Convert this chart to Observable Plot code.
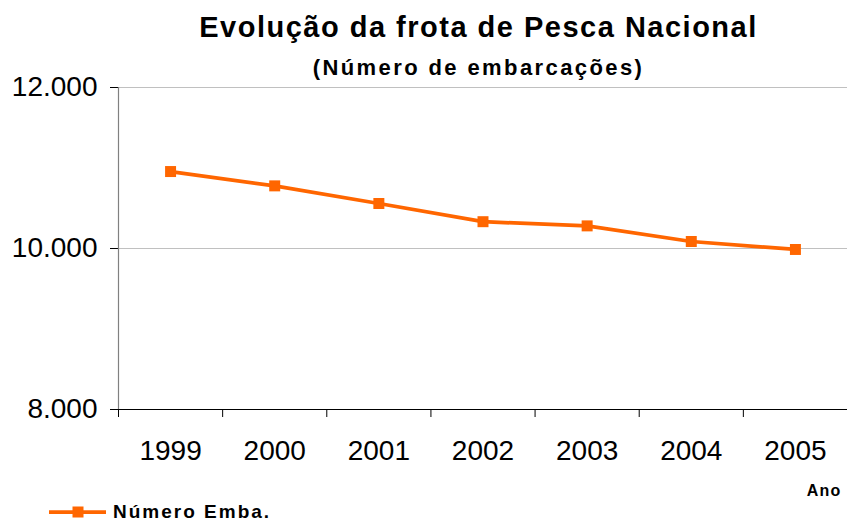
<!DOCTYPE html>
<html>
<head>
<meta charset="utf-8">
<script src="https://cdn.jsdelivr.net/npm/d3@7"></script>
<script src="https://cdn.jsdelivr.net/npm/@observablehq/plot@0.6"></script>
<style>
  html, body { margin: 0; padding: 0; background: #fff; }
  #wrap { position: relative; width: 847px; height: 521px; overflow: hidden; font-family: "Liberation Sans", Arial, sans-serif; color: #000; }
  .title { position: absolute; left: 0; width: 957px; text-align: center; font-weight: bold; white-space: nowrap; }
  #t1 { top: 13px; font-size: 29px; line-height: 29px; letter-spacing: 1.5px; }
  #t2 { top: 57px; font-size: 22px; line-height: 22px; letter-spacing: 2.4px; }
  #chart { position: absolute; left: 0; top: 72px; }
  #legend { position: absolute; left: 49px; top: 502px; height: 19px; display: flex; align-items: center; }
  #legend span { font-weight: bold; font-size: 19px; line-height: 19px; letter-spacing: 2px; margin-left: 6px; }
</style>
</head>
<body>
<div id="wrap">
  <div id="chart"></div>
  <div class="title" id="t1">Evolução da frota de Pesca Nacional</div>
  <div class="title" id="t2">(Número de embarcações)</div>
  <div id="legend"></div>
</div>
<script>
const years = [1999, 2000, 2001, 2002, 2003, 2004, 2005];
const boats = [10956, 10778, 10559, 10333, 10281, 10087, 9988];
const yTicks = [8000, 10000, 12000];
const seriesName = "Número Emba.";
const xTitle = "Ano";
const orange = "#FF6600";

const data = years.map((year, i) => ({year, boats: boats[i]}));
const bounds = [...years.map(y => y - 0.5), years[years.length - 1] + 0.5];
const fmt = d => d3.format(",")(d).replace(/,/g, ".");

const plot = Plot.plot({
  width: 847,
  height: 430,
  marginTop: 15,
  marginBottom: 93,
  marginLeft: 118,
  marginRight: 0,
  style: {fontFamily: "'Liberation Sans', Arial, sans-serif", fontSize: "28px", color: "#000", background: "#fff", overflow: "visible"},
  x: {domain: [years[0] - 0.5, years[years.length - 1] + 0.5]},
  y: {domain: [yTicks[0], yTicks[yTicks.length - 1]]},
  marks: [
    Plot.ruleY(yTicks.slice(1), {stroke: "#c0c0c0", strokeWidth: 1}),
    Plot.axisY({ticks: yTicks, tickSize: 8, tickPadding: 13, tickFormat: fmt, label: null, fontSize: 28}),
    Plot.axisX({ticks: bounds, tickSize: 8, tickFormat: () => "", label: null}),
    Plot.axisX({ticks: years, tickSize: 0, tickPadding: 31, tickFormat: d => String(d), label: null, fontSize: 28}),
    Plot.ruleX([years[0] - 0.5], {stroke: "#808080", strokeWidth: 1.2}),
    Plot.ruleY([yTicks[0]], {stroke: "#000", strokeWidth: 1.2}),
    Plot.text([xTitle], {frameAnchor: "bottom-right", textAnchor: "end", lineAnchor: "bottom", dx: -6, dy: 86, fontSize: 16, fontWeight: "bold"}),
    Plot.line(data, {x: "year", y: "boats", stroke: orange, strokeWidth: 3.75}),
    Plot.dot(data, {x: "year", y: "boats", symbol: "square", r: 6.2, fill: orange, stroke: "none"})
  ]
});
plot.querySelectorAll("text").forEach(t => {
  if (t.textContent === xTitle) t.setAttribute("letter-spacing", "1.2");
});
document.getElementById("chart").appendChild(plot);

const leg = document.getElementById("legend");
leg.innerHTML = `<svg width="58" height="19" viewBox="0 0 58 19">
  <line x1="0" y1="10" x2="57" y2="10" stroke="${orange}" stroke-width="3.75"></line>
  <rect x="23.5" y="4.5" width="11" height="11" fill="${orange}"></rect>
</svg><span></span>`;
leg.querySelector("span").textContent = seriesName;
</script>
</body>
</html>
